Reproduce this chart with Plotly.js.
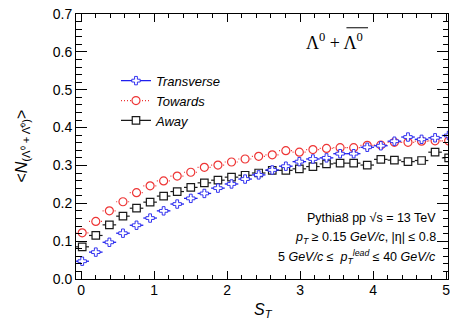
<!DOCTYPE html>
<html>
<head>
<meta charset="utf-8">
<script src="https://cdn.plot.ly/plotly-3.0.1.min.js"></script>
<style>
  html, body { margin: 0; padding: 0; background: #fff; }
  #chart { width: 450px; height: 320px; }
</style>
</head>
<body>
<div id="chart"></div>
<script>
// S_T bin centres
const sT = [0.015, 0.201, 0.387, 0.573, 0.759, 0.945, 1.130, 1.316, 1.502, 1.688,
            1.874, 2.060, 2.246, 2.432, 2.618, 2.804, 2.989, 3.175, 3.361, 3.547,
            3.733, 3.919, 4.105, 4.291, 4.477, 4.663, 4.848, 5.034];
// half width of each S_T bin (horizontal error bar)
const binHalfWidth = 0.093;

// <N> of Lambda0 + anti-Lambda0 per region
const transverse = [0.047, 0.071, 0.097, 0.121, 0.142, 0.161, 0.180, 0.198, 0.213, 0.226,
                    0.240, 0.251, 0.264, 0.275, 0.288, 0.298, 0.310, 0.317, 0.320, 0.331,
                    0.331, 0.348, 0.352, 0.364, 0.375, 0.369, 0.373, 0.379];
const towards    = [0.122, 0.152, 0.180, 0.204, 0.228, 0.246, 0.259, 0.272, 0.282, 0.295,
                    0.301, 0.309, 0.317, 0.324, 0.328, 0.339, 0.335, 0.342, 0.345, 0.347,
                    0.347, 0.353, 0.354, 0.361, 0.361, 0.364, 0.365, 0.365];
const away       = [0.085, 0.115, 0.143, 0.166, 0.187, 0.203, 0.219, 0.231, 0.242, 0.254,
                    0.261, 0.269, 0.274, 0.280, 0.287, 0.287, 0.291, 0.297, 0.304, 0.306,
                    0.306, 0.301, 0.316, 0.314, 0.310, 0.313, 0.335, 0.320];

const seriesNames = ['Transverse', 'Towards', 'Away'];

const styles = {
  Transverse: { color: '#1f1fee', dash: 'solid',   symbol: 'cross',  size: 7,   lw: 1.3, mlw: 0.9 },
  Towards:    { color: '#ee3535', dash: '1px,2px', symbol: 'circle', size: 8,   lw: 1.2, mlw: 1.2 },
  Away:       { color: '#1a1a1a', dash: 'solid',   symbol: 'square', size: 7.5, lw: 1.2, mlw: 1.2 }
};
const values = { Transverse: transverse, Towards: towards, Away: away };

// horizontal bin-width bars, one short segment per point
function binSegments(xs, ys, hw) {
  const sx = [], sy = [];
  xs.forEach((x, i) => {
    sx.push(x - hw, x + hw, null);
    sy.push(ys[i], ys[i], null);
  });
  return { x: sx, y: sy };
}

const traces = [];
// draw order: Away, Towards, Transverse on top
['Away', 'Towards', 'Transverse'].forEach(name => {
  const st = styles[name];
  const seg = binSegments(sT, values[name], binHalfWidth);
  traces.push({
    type: 'scatter', mode: 'lines', x: seg.x, y: seg.y, showlegend: false,
    hoverinfo: 'skip', connectgaps: false,
    line: { color: st.color, width: st.lw, dash: st.dash }
  });
  traces.push({
    type: 'scatter', mode: 'markers', x: sT, y: values[name], showlegend: false,
    marker: { symbol: st.symbol, size: st.size, color: '#ffffff',
              line: { color: st.color, width: st.mlw } }
  });
});
// legend entries
seriesNames.forEach((name, k) => {
  const st = styles[name];
  traces.push({
    type: 'scatter', mode: 'lines+markers', x: [null], y: [null], name: name,
    legendrank: k + 1,
    line: { color: st.color, width: st.lw, dash: st.dash },
    marker: { symbol: st.symbol, size: st.size, color: '#ffffff',
              line: { color: st.color, width: st.mlw } }
  });
});

const axisCommon = {
  showline: true, linecolor: '#000', linewidth: 1, mirror: 'allticks',
  ticks: 'inside', tickcolor: '#000', tickwidth: 1,
  showgrid: false, zeroline: false, ticklabeloverflow: 'allow',
  tickfont: { size: 14, color: '#000' }
};

const layout = {
  width: 450, height: 320,
  margin: { l: 76, r: 2, t: 14, b: 41, pad: 0 },
  paper_bgcolor: '#ffffff', plot_bgcolor: '#ffffff',
  font: { family: 'Liberation Sans, Arial, Helvetica, sans-serif', color: '#000', size: 14 },
  showlegend: true,
  legend: {
    x: 0.1075, xanchor: 'left', y: 0.805, yanchor: 'top',
    bgcolor: 'rgba(0,0,0,0)', borderwidth: 0,
    font: { size: 13, style: 'italic', color: '#000' },
    traceorder: 'normal'
  },
  xaxis: Object.assign({}, axisCommon, {
    range: [-0.07, 5.025], tick0: 0, dtick: 1, ticklen: 8, ticklabelstandoff: -2,
    minor: { ticks: 'inside', ticklen: 4, tick0: 0, dtick: 0.2, tickcolor: '#000', tickwidth: 1, showgrid: false }
  }),
  yaxis: Object.assign({}, axisCommon, {
    range: [0, 0.7], tick0: 0, dtick: 0.1, tickformat: '.1f', ticklen: 11,
    minor: { ticks: 'inside', ticklen: 5.5, tick0: 0, dtick: 0.02, tickcolor: '#000', tickwidth: 1, showgrid: false }
  }),
  annotations: [
    { // particle label
      xref: 'paper', yref: 'paper', x: 0.613, y: 0.897, xanchor: 'left', yanchor: 'middle',
      showarrow: false, text: 'Λ<sup>0</sup> + Λ<sup>0</sup>',
      font: { family: 'Liberation Serif, Times New Roman, serif', size: 18, color: '#000' }
    },
    { // simulation settings
      xref: 'paper', yref: 'paper', x: 0.973, y: 0.229, xanchor: 'right', yanchor: 'middle',
      showarrow: false, text: 'Pythia8 pp √s = 13 TeV', font: { size: 12.5 }
    },
    {
      xref: 'paper', yref: 'paper', x: 0.973, y: 0.156, xanchor: 'right', yanchor: 'middle',
      showarrow: false, text: '<i>p</i><sub><i>T</i></sub> ≥ 0.15 <i>GeV/c</i>, |η| ≤ 0.8', font: { size: 12.5 }
    },
    {
      xref: 'paper', yref: 'paper', x: 0.973, y: 0.084, xanchor: 'right', yanchor: 'middle',
      showarrow: false, text: '5 <i>GeV/c</i> ≤  <i>p</i><sub><i>T</i></sub><sup><i>lead</i></sup> ≤ 40 <i>GeV/c</i>', font: { size: 12.5 }
    },
    { // x-axis title
      xref: 'paper', yref: 'paper', x: 0.503, y: -0.117, xanchor: 'center', yanchor: 'middle',
      showarrow: false, text: '<i>S</i><sub><i>T</i></sub>', font: { size: 16 }
    },
    { // y-axis title
      xref: 'paper', yref: 'paper', x: -0.145, y: 0.5, xanchor: 'center', yanchor: 'middle',
      showarrow: false, textangle: -90,
      text: '&lt;<i>N</i><sub>(Λ⁰ + Λ\u0304⁰)</sub>&gt;', font: { size: 16 }
    }
  ],
  shapes: [
    { // bar over the antiparticle symbol
      type: 'line', xref: 'paper', yref: 'paper', x0: 0.727, x1: 0.785, y0: 0.948, y1: 0.948,
      line: { color: '#000', width: 1 }
    }
  ]
};

Plotly.newPlot('chart', traces, layout, { staticPlot: true, displayModeBar: false });
</script>
</body>
</html>
